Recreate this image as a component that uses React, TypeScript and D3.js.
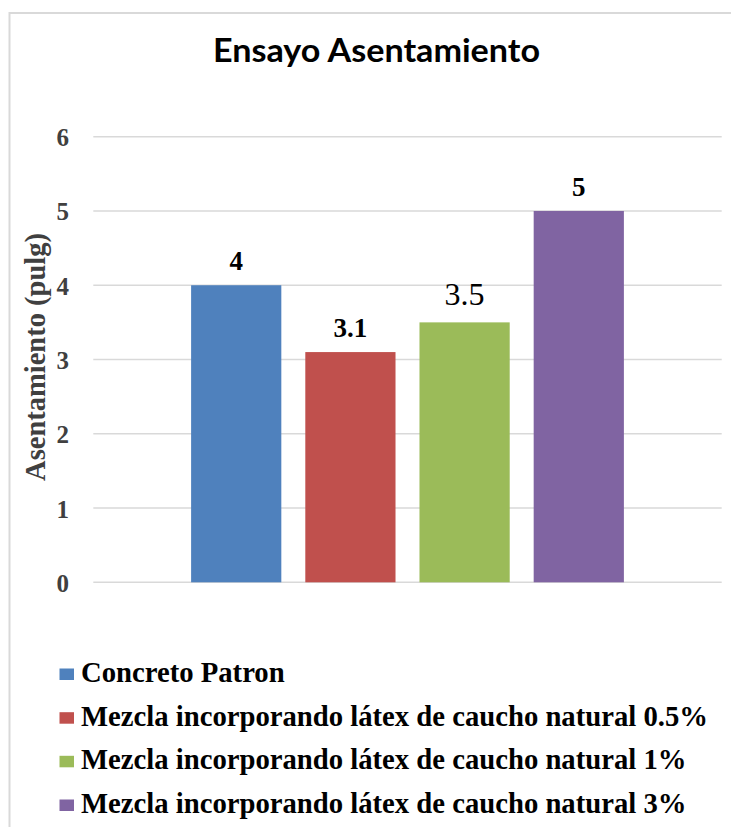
import React from "react";
import * as d3 from "d3";

const title = "Ensayo Asentamiento";
const yAxisTitle = "Asentamiento (pulg)";
const categories = ["Ensayo"];
const seriesNames = [
  "Concreto Patron",
  "Mezcla incorporando látex de caucho natural 0.5%",
  "Mezcla incorporando látex de caucho natural 1%",
  "Mezcla incorporando látex de caucho natural 3%",
];
const seriesValues = [4, 3.1, 3.5, 5];
const seriesLabels = ["4", "3.1", "3.5", "5"];
const labelBold = [true, true, false, true];
const seriesColors = ["#4f81bd", "#c0504d", "#9bbb59", "#8064a2"];
const yTicks = [0, 1, 2, 3, 4, 5, 6];

const W = 731;
const H = 827;
const plotLeft = 93.3;
const plotRight = 721.7;
const plotTop = 136.7;
const plotBottom = 582.3;
const serif = "'Liberation Serif', 'Times New Roman', serif";

export default function App() {
  const y = d3.scaleLinear().domain([0, 6]).range([plotBottom, plotTop]);
  const xOuter = d3
    .scaleBand<string>()
    .domain(categories)
    .range([plotLeft, plotRight])
    .paddingInner(0)
    .paddingOuter(0.226);
  const xInner = d3
    .scaleBand<string>()
    .domain(seriesNames)
    .range([0, xOuter.bandwidth()])
    .paddingInner(0.21)
    .paddingOuter(0);

  const legendBaselines = [682, 725.7, 769.3, 813];

  return (
    <svg
      width={W}
      height={H}
      style={{ position: "absolute", left: 0, top: 0, background: "#fff" }}
    >
      <rect x={0} y={0} width={W} height={H} fill="#fff" />
      <rect
        x={9.5}
        y={13}
        width={W + 20}
        height={H + 20}
        fill="#fff"
        stroke="#d9d9d9"
        strokeWidth={2}
      />
      <text
        x={376.5}
        y={62}
        textAnchor="middle"
        fontFamily="Lato, 'Open Sans', sans-serif"
        fontWeight="bold"
        fontSize={33}
        textLength={327}
        lengthAdjust="spacingAndGlyphs"
        fill="#000"
      >
        {title}
      </text>

      {yTicks.map((t) => (
        <g key={t}>
          <line
            x1={plotLeft}
            x2={plotRight}
            y1={y(t)}
            y2={y(t)}
            stroke="#d9d9d9"
            strokeWidth={1.6}
          />
          <text
            x={69}
            y={y(t) + 9.5}
            textAnchor="end"
            fontFamily={serif}
            fontWeight="bold"
            fontSize={25}
            fill="#404040"
          >
            {t}
          </text>
        </g>
      ))}

      <text
        transform={`translate(45,357) rotate(-90)`}
        textAnchor="middle"
        fontFamily={serif}
        fontWeight="bold"
        fontSize={28.5}
        fill="#404040"
      >
        {yAxisTitle}
      </text>

      {categories.map((c) => (
        <g key={c} transform={`translate(${xOuter(c)},0)`}>
          {seriesNames.map((s, i) => {
            const x0 = xInner(s) as number;
            const bw = xInner.bandwidth();
            return (
              <g key={s}>
                <rect
                  x={x0}
                  y={y(seriesValues[i])}
                  width={bw}
                  height={y(0) - y(seriesValues[i])}
                  fill={seriesColors[i]}
                />
                <text
                  x={x0 + bw / 2}
                  y={y(seriesValues[i]) - (labelBold[i] ? 15 : 17)}
                  textAnchor="middle"
                  fontFamily={serif}
                  fontWeight={labelBold[i] ? "bold" : "normal"}
                  fontSize={labelBold[i] ? 27 : 32}
                  fill="#000"
                >
                  {seriesLabels[i]}
                </text>
              </g>
            );
          })}
        </g>
      ))}

      {seriesNames.map((s, i) => (
        <g key={s}>
          <rect
            x={59.5}
            y={legendBaselines[i] - 13.5}
            width={14.5}
            height={11.5}
            fill={seriesColors[i]}
          />
          <text
            transform={`translate(81,${legendBaselines[i]}) scale(1,1.05)`}
            fontFamily={serif}
            fontWeight="bold"
            fontSize={28.7}
            fill="#000"
          >
            {s}
          </text>
        </g>
      ))}
    </svg>
  );
}
